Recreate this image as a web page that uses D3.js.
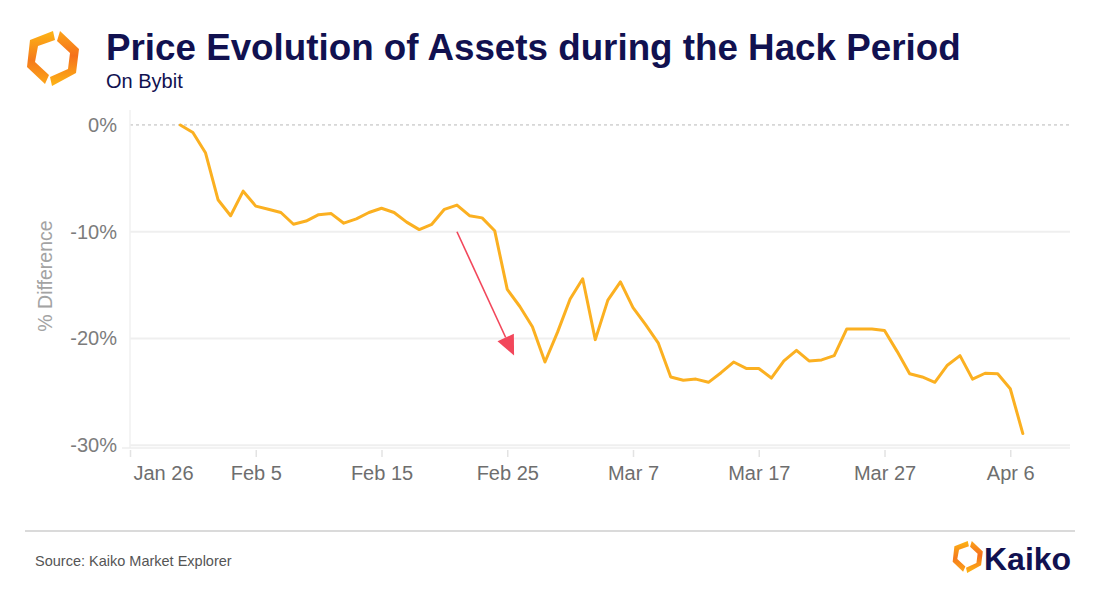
<!DOCTYPE html>
<html>
<head>
<meta charset="utf-8">
<script src="https://cdn.jsdelivr.net/npm/d3@7"></script>
<style>
  html, body { margin: 0; padding: 0; background: #ffffff; }
  svg { display: block; font-family: "Liberation Sans", Arial, Helvetica, sans-serif; }
</style>
</head>
<body>
<svg id="chart" width="1120" height="595"></svg>
<script>
// ---------------- data ----------------
const titleText = "Price Evolution of Assets during the Hack Period";
const subtitleText = "On Bybit";
const yAxisTitle = "% Difference";
const sourceText = "Source: Kaiko Market Explorer";
const brandText = "Kaiko";

const startDate = "2025-01-30";           // first daily observation
const pctDiff = [
  0, -0.7, -2.6, -7.0, -8.5, -6.2, -7.6, -7.9, -8.2, -9.3,
  -9.0, -8.4, -8.3, -9.2, -8.8, -8.2, -7.8, -8.2, -9.1, -9.8,
  -9.3, -7.9, -7.5, -8.5, -8.7, -9.9, -15.4, -17.0, -18.9, -22.2,
  -19.4, -16.3, -14.4, -20.1, -16.4, -14.7, -17.1, -18.7, -20.4, -23.6,
  -23.9, -23.8, -24.1, -23.2, -22.2, -22.8, -22.8, -23.7, -22.1, -21.1,
  -22.1, -22.0, -21.6, -19.1, -19.1, -19.1, -19.25, -21.2, -23.3, -23.6,
  -24.1, -22.5, -21.6, -23.8, -23.25, -23.3, -24.7, -28.9
];

const yTicks = [0, -10, -20, -30];
const yTickLabels = ["0%", "-10%", "-20%", "-30%"];
const xTickDates = ["2025-01-26", "2025-02-05", "2025-02-15", "2025-02-25",
                    "2025-03-07", "2025-03-17", "2025-03-27", "2025-04-06"];
const xTickLabels = ["Jan 26", "Feb 5", "Feb 15", "Feb 25", "Mar 7", "Mar 17", "Mar 27", "Apr 6"];
const xDomain = ["2025-01-26T00:00", "2025-04-10T18:00"];
const yDomain = [-30.25, 1.4];

// annotation arrow (data coords): from / to
const arrowFrom = { date: "2025-02-21T00:00", value: -10.0 };
const arrowTo   = { date: "2025-02-25T13:00", value: -21.6 };

// ---------------- setup ----------------
const parse = d3.isoParse;
const t0 = parse(startDate + "T00:00");
const series = pctDiff.map((v, i) => ({ date: d3.timeDay.offset(t0, i), value: v }));

const svg = d3.select("#chart");
const plot = { left: 130, right: 1070, top: 110, bottom: 448 };

const x = d3.scaleTime().domain(xDomain.map(parse)).range([plot.left, plot.right]);
const y = d3.scaleLinear().domain(yDomain).range([plot.bottom, plot.top]);

const navy = "#111150";

// ---------------- header logo ----------------
const defs = svg.append("defs");
const g1 = defs.append("linearGradient").attr("id", "gL").attr("x1", "0").attr("y1", "0").attr("x2", "0").attr("y2", "1");
g1.append("stop").attr("offset", "0").attr("stop-color", "#fdb515");
g1.append("stop").attr("offset", "0.55").attr("stop-color", "#f57a1c");
g1.append("stop").attr("offset", "1").attr("stop-color", "#fca41a");
const g2 = defs.append("linearGradient").attr("id", "gR").attr("x1", "0").attr("y1", "0").attr("x2", "0").attr("y2", "1");
g2.append("stop").attr("offset", "0").attr("stop-color", "#fca41a");
g2.append("stop").attr("offset", "0.45").attr("stop-color", "#f5701c");
g2.append("stop").attr("offset", "1").attr("stop-color", "#fdb515");

function drawLogo(g, s) {
  // broken hexagon made of two chevrons (filled parallelogram pieces)
  const left = [[53, 31], [55, 40], [38, 46], [35, 62], [49, 75], [45, 84], [27, 67], [30, 40]];
  const right = [[60, 31], [79, 49], [76, 73], [52, 86], [50, 77], [68, 69], [70, 53], [57, 41]];
  const ln = d3.line().x(d => d[0] * s).y(d => d[1] * s);
  g.append("path").attr("d", ln(left) + "Z").attr("fill", "url(#gL)");
  g.append("path").attr("d", ln(right) + "Z").attr("fill", "url(#gR)");
}
drawLogo(svg.append("g"), 1);

// ---------------- title ----------------
const title = svg.append("text").attr("x", 106).attr("y", 60)
  .attr("fill", navy).attr("font-weight", "bold").attr("font-size", 36.5)
  .text(titleText);
const tw = title.node().getComputedTextLength();
if (tw > 0) title.attr("font-size", 36.5 * 855 / tw);

svg.append("text").attr("x", 106).attr("y", 88)
  .attr("fill", navy).attr("font-size", 20).text(subtitleText);

// ---------------- grid & axes ----------------
const grid = svg.append("g");
yTicks.forEach((t, i) => {
  grid.append("line")
    .attr("x1", plot.left).attr("x2", plot.right)
    .attr("y1", y(t)).attr("y2", y(t))
    .attr("stroke", t === 0 ? "#b8b8b8" : "#efefef")
    .attr("stroke-width", t === 0 ? 1 : 2)
    .attr("stroke-dasharray", t === 0 ? "3,3" : null);
});
// left frame line and bottom baseline
grid.append("line").attr("x1", plot.left).attr("x2", plot.left)
  .attr("y1", plot.top).attr("y2", plot.bottom).attr("stroke", "#f0f0f0").attr("stroke-width", 1.5);
grid.append("line").attr("x1", plot.left - 8).attr("x2", plot.right)
  .attr("y1", plot.bottom).attr("y2", plot.bottom).attr("stroke", "#eeeeee").attr("stroke-width", 1.5);

// y axis via d3.axisLeft
const yAxis = d3.axisLeft(y).tickValues(yTicks)
  .tickFormat((d, i) => yTickLabels[i]).tickSize(0).tickPadding(13);
const yg = svg.append("g").attr("transform", `translate(${plot.left},0)`).call(yAxis);
yg.select(".domain").remove();
yg.selectAll("text").attr("fill", "#7c7c7c").attr("font-size", 20)
  .attr("font-family", "'Liberation Sans', Arial, sans-serif");

svg.append("text")
  .attr("transform", `translate(52,276) rotate(-90)`)
  .attr("text-anchor", "middle").attr("fill", "#a3a3a3").attr("font-size", 19.5)
  .text(yAxisTitle);

// x axis via d3.axisBottom
const xTickVals = xTickDates.map(d => parse(d + "T00:00"));
const xAxis = d3.axisBottom(x).tickValues(xTickVals)
  .tickFormat((d, i) => xTickLabels[i]).tickSize(7).tickPadding(9);
const xg = svg.append("g").attr("transform", `translate(0,${plot.bottom + 2})`).call(xAxis);
xg.select(".domain").remove();
xg.selectAll(".tick line").attr("stroke", "#e3e3e3").attr("stroke-width", 1.5);
xg.selectAll("text").attr("fill", "#6e6e6e").attr("font-size", 20)
  .attr("font-family", "'Liberation Sans', Arial, sans-serif");
xg.selectAll(".tick").filter((d, i) => i === 0).select("text")
  .attr("text-anchor", "start").attr("x", 3);

// ---------------- line ----------------
const line = d3.line().x(d => x(d.date)).y(d => y(d.value));
svg.append("path").datum(series)
  .attr("d", line).attr("fill", "none")
  .attr("stroke", "#fbb021").attr("stroke-width", 3)
  .attr("stroke-linejoin", "round").attr("stroke-linecap", "round");

// ---------------- annotation arrow ----------------
const ax1 = x(parse(arrowFrom.date)), ay1 = y(arrowFrom.value);
const ax2 = x(parse(arrowTo.date)), ay2 = y(arrowTo.value);
const ang = Math.atan2(ay2 - ay1, ax2 - ax1);
const headLen = 20, headHalf = 9;
const bx = ax2 - headLen * Math.cos(ang), by = ay2 - headLen * Math.sin(ang);
svg.append("line").attr("x1", ax1).attr("y1", ay1).attr("x2", bx).attr("y2", by)
  .attr("stroke", "#f2475b").attr("stroke-width", 1.6);
svg.append("path")
  .attr("d", `M${ax2},${ay2} L${bx + headHalf * Math.sin(ang)},${by - headHalf * Math.cos(ang)} L${bx - headHalf * Math.sin(ang)},${by + headHalf * Math.cos(ang)} Z`)
  .attr("fill", "#f2475b");

// ---------------- footer ----------------
svg.append("line").attr("x1", 25).attr("x2", 1075).attr("y1", 531).attr("y2", 531)
  .attr("stroke", "#b5b5b5").attr("stroke-width", 1.2);
svg.append("text").attr("x", 35).attr("y", 566).attr("fill", "#555")
  .attr("font-size", 14.5).text(sourceText);

const bl = svg.append("g").attr("transform", "translate(937,523) scale(0.58)");
drawLogo(bl, 1);
svg.append("text").attr("x", 984).attr("y", 570).attr("fill", navy)
  .attr("font-weight", "bold").attr("font-size", 32).text(brandText);
</script>
</body>
</html>
